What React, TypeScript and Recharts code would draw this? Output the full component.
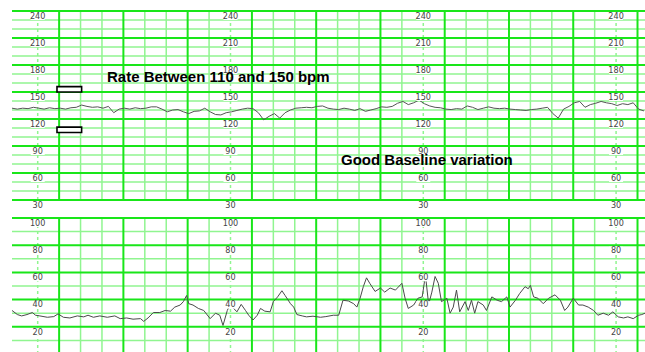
import {
  LineChart,
  Line,
  XAxis,
  YAxis,
  ReferenceLine,
  ReferenceArea,
  ReferenceDot,
} from 'recharts';

// fetal heart rate, one sample every 5 s starting at -4 s
const fhrStart = -4;
const fhrStep = 5;
const fhrValues = [
  132, 131, 132, 131.5, 133, 132, 131, 132.5, 131.5, 132, 131, 132.5, 133, 135.5,
  134, 133, 133.5, 132, 134, 127, 131, 132, 131, 132.5, 131.5, 132, 133.5, 133.5,
  131, 128, 130, 130.5, 128, 126, 128.5, 129, 132, 128, 125, 124.5, 127, 128,
  129.5, 131, 132, 131.5, 127, 119, 123, 126, 121, 127, 130, 132, 132.5, 133,
  132.5, 134, 134.5, 132, 131, 130.5, 132, 131, 129.5, 131.5, 128.5, 130, 131.5,
  133.5, 133, 134, 137.5, 139.5, 136, 138, 141, 137, 134.5, 133, 132.5, 131,
  130.5, 131.5, 131, 134.5, 133, 130.5, 132, 133.5, 132, 131.5, 132, 131, 130.5,
  130, 129.5, 130.5, 131, 132, 133, 126, 121, 131, 134, 138, 139.5, 133, 136,
  137.5, 139.5, 138, 137, 135, 137, 136, 138, 131, 129,
];

// uterine activity [seconds, value]
const uaTrace: [number, number][] = [
  [-4, 32], [1, 29], [5, 28], [10, 29], [15, 30.5], [18, 28.5], [22, 28], [29, 27],
  [35, 27.5], [39, 29.5], [44, 27], [50, 26.5], [57, 28], [63, 27.3], [67, 28.5],
  [72, 27], [78, 28], [85, 27], [92, 28], [97, 26], [103, 26.5], [109, 25.6],
  [116, 26], [119, 24], [123, 26.5], [128, 30.5], [134, 30.5], [139, 32], [144, 31.5],
  [148, 34.5], [153, 36], [156, 38.5], [159, 43], [161, 37], [165, 36], [170, 33.5],
  [175, 32], [181, 26], [186, 30], [190, 28.5], [193, 21], [197, 32], [200, 37],
  [203, 33.5], [206, 31], [210, 36.5], [214, 32], [217, 28.5], [221, 25], [225, 28.5],
  [228, 33.5], [232, 31.5], [237, 31], [240, 38.5], [244, 42], [248, 46.5], [251, 43],
  [256, 37], [259, 34.5], [262, 29], [267, 28], [271, 27.3], [277, 27.8], [284, 27],
  [289, 27.5], [296, 28.5], [301, 28.5], [305, 39.5], [310, 39], [315, 37], [318, 34.5],
  [321, 41], [324, 49.5], [327, 56], [330, 52], [335, 46], [340, 48.5], [344, 45.5],
  [349, 48.5], [354, 47], [360, 52], [363, 41], [366, 33.5], [371, 36], [375, 41],
  [379, 42], [382, 58], [385, 36.5], [388, 45.5], [391, 57], [394, 52], [397, 38.5],
  [402, 41], [405, 30], [408, 34.5], [411, 47], [414, 31], [419, 38.5], [422, 32],
  [425, 39.5], [428, 30], [431, 38.5], [436, 36], [439, 32], [444, 42], [449, 39.5],
  [453, 38.5], [458, 42], [461, 34.5], [466, 39.5], [470, 44.5], [475, 49.5], [478, 48],
  [480, 50.5], [483, 42], [487, 41], [492, 37], [497, 41], [503, 43.5], [508, 39.5],
  [512, 32], [515, 34.5], [520, 41], [525, 36], [529, 36], [534, 34.5], [539, 32],
  [543, 28.5], [548, 30], [553, 28.5], [557, 31], [562, 27.3], [567, 26.5], [571, 27.3],
  [576, 26], [581, 28.5], [584, 29], [587, 30],
];

// paper grid
const minorTimes = [60, 80, 120, 140, 180, 240, 260, 300, 320, 360, 420, 440, 480, 500, 540];
const majorTimes = [40, 100, 160, 220, 280, 340, 400, 460, 520, 580];
const scaleTimes = [20, 200, 380, 560];

const fhrMajor = [30, 60, 90, 120, 150, 180, 210, 240];
const fhrMinor = [40, 50, 70, 80, 100, 110, 130, 140, 160, 170, 190, 200, 220, 230];
const uaMajor = [0, 20, 40, 60, 80, 100];
const uaMinor = [10, 30, 50, 70, 90];
const uaLabels = [20, 40, 60, 80, 100];

// marker boxes for the 150 / 110 bpm limits
const boxTimes = [38, 61];
const boxRanges = [
  [150, 156],
  [105, 111],
];

const fhrData = fhrValues.map((v, i) => ({ t: fhrStart + i * fhrStep, v }));
const uaData = uaTrace.map(([t, v]) => ({ t, v }));

const majorColor = '#19e619';
const minorColor = '#90f590';
const timeDomain = [-4, 587];

const ScaleLabel = ({ cx, cy, text }: any) => (
  <g>
    <rect x={cx - 7} y={cy + 1.5} width={14} height={7.5} fill='#fff' />
    <text
      x={cx}
      y={cy + 7.8}
      textAnchor='middle'
      fontSize={9}
      fill='#444'
      fontFamily="'Liberation Sans Narrow', 'DejaVu Sans Condensed', sans-serif">
      {text}
    </text>
  </g>
);

function gridLines(hMajor: number[], hMinor: number[], labels: number[]) {
  return [
    ...hMinor.map((y) => (
      <ReferenceLine key={'hn' + y} y={y} stroke={minorColor} strokeWidth={1.5} />
    )),
    ...minorTimes.map((x) => (
      <ReferenceLine key={'vn' + x} x={x} stroke={minorColor} strokeWidth={1.5} />
    )),
    ...scaleTimes.map((x) => (
      <ReferenceLine
        key={'vs' + x}
        x={x}
        stroke={minorColor}
        strokeWidth={1.5}
        strokeDasharray='3 3'
      />
    )),
    ...hMajor.map((y) => (
      <ReferenceLine key={'hm' + y} y={y} stroke={majorColor} strokeWidth={2} />
    )),
    ...majorTimes.map((x) => (
      <ReferenceLine key={'vm' + x} x={x} stroke={majorColor} strokeWidth={2} />
    )),
    ...scaleTimes.flatMap((x) =>
      labels.map((y) => (
        <ReferenceDot
          key={'l' + x + '-' + y}
          x={x}
          y={y}
          r={0}
          ifOverflow='visible'
          shape={(p: any) => <ScaleLabel cx={p.cx} cy={p.cy} text={y} />}
        />
      ))
    ),
  ];
}

const noteStyle: React.CSSProperties = {
  position: 'absolute',
  fontFamily: "'Liberation Sans', Arial, sans-serif",
  fontWeight: 'bold',
  fontSize: 15,
  lineHeight: '15px',
  color: '#000',
  whiteSpace: 'nowrap',
};

const topMargin = { top: 11, right: 0, bottom: 12, left: 12 };

export default function App() {
  return (
    <div
      style={{
        position: 'absolute',
        left: 0,
        top: 0,
        width: 645,
        height: 352,
        overflow: 'hidden',
        background: '#fff',
      }}>
      <div style={{ position: 'absolute', left: 0, top: 207 }}>
        <LineChart
          width={645}
          height={150}
          data={uaData}
          margin={{ top: 11, right: 0, bottom: 3, left: 12 }}>
          <XAxis dataKey='t' type='number' domain={timeDomain} hide allowDataOverflow />
          <YAxis type='number' domain={[0, 100]} hide />
          {gridLines(uaMajor, uaMinor, uaLabels)}
          <Line
            type='linear'
            dataKey='v'
            stroke='#4a4a4a'
            strokeWidth={1}
            dot={false}
            isAnimationActive={false}
          />
        </LineChart>
      </div>
      <div style={{ position: 'absolute', left: 0, top: 0 }}>
        <LineChart width={645} height={212} data={fhrData} margin={topMargin}>
          <XAxis dataKey='t' type='number' domain={timeDomain} hide allowDataOverflow />
          <YAxis type='number' domain={[30, 240]} hide />
          {gridLines(fhrMajor, fhrMinor, fhrMajor)}
          <Line
            type='linear'
            dataKey='v'
            stroke='#555'
            strokeWidth={1}
            dot={false}
            isAnimationActive={false}
          />
        </LineChart>
      </div>
      {/* limit boxes drawn in an overlay so they sit above the grid */}
      <div style={{ position: 'absolute', left: 0, top: 0 }}>
        <LineChart width={645} height={212} data={fhrData} margin={topMargin}>
          <XAxis dataKey='t' type='number' domain={timeDomain} hide allowDataOverflow />
          <YAxis type='number' domain={[30, 240]} hide />
          <Line
            type='linear'
            dataKey='v'
            stroke='none'
            dot={false}
            isAnimationActive={false}
          />
          {boxRanges.map(([y1, y2]) => (
            <ReferenceArea
              key={y1}
              x1={boxTimes[0]}
              x2={boxTimes[1]}
              y1={y1}
              y2={y2}
              ifOverflow='visible'
              fill='#fff'
              fillOpacity={1}
              stroke='#000'
              strokeOpacity={1}
              strokeWidth={1.6}
            />
          ))}
        </LineChart>
      </div>
      <div style={{ ...noteStyle, left: 107, top: 69 }}>
        Rate Between 110 and 150 bpm
      </div>
      <div style={{ ...noteStyle, left: 341, top: 152 }}>
        Good Baseline variation
      </div>
    </div>
  );
}
